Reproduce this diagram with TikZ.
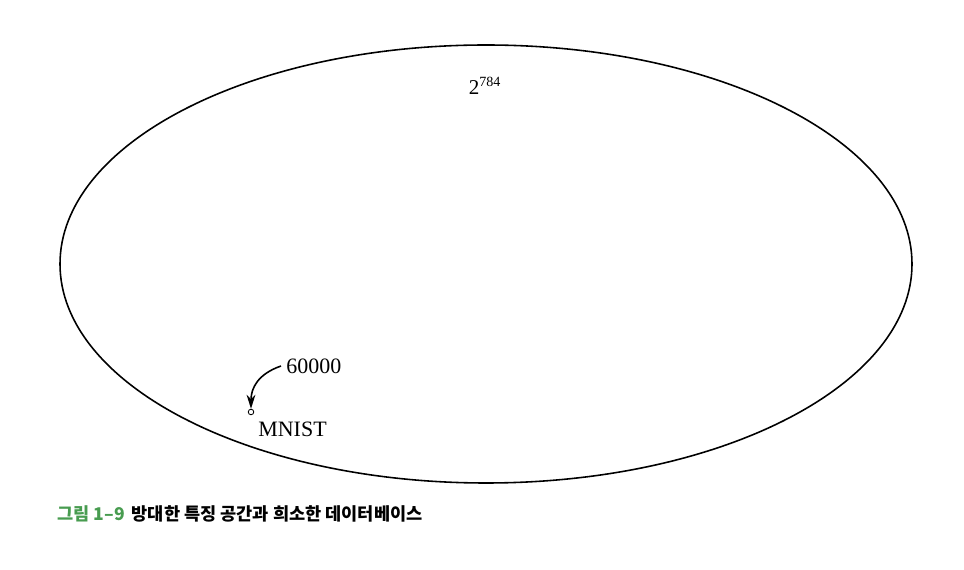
\documentclass[tikz,border=0pt]{standalone}
\usepackage{fontspec}
\setmainfont{Liberation Serif}
\newfontfamily\kr{Noto Sans CJK KR}
\definecolor{figgreen}{RGB}{72,156,80}
\usetikzlibrary{arrows.meta,shapes.geometric}
\begin{document}
\begin{tikzpicture}[x=0.02cm, y=-0.02cm, every node/.style={inner sep=0pt}]
          \useasboundingbox (0,0) rectangle (964,570);
          \node [draw, ellipse, minimum width=852*0.02cm, minimum height=438*0.02cm, line width=0.9pt] (space) at (486,264) {};
          \node [font=\fontsize{12}{14}\selectfont] (total) at (485,86) {2\textsuperscript{784}};
          \node [draw, circle, minimum size=5.5*0.02cm, line width=0.5pt] (mnist) at (251,412) {};
          \node [font=\fontsize{12.5}{14}\selectfont, anchor=west] (count) at (286,366) {60000};
          \node [font=\fontsize{12.5}{14}\selectfont, anchor=west] (name) at (258,429) {MNIST};
          \draw [-{Stealth[length=8pt,width=5pt]}, line width=0.9pt] (count.west) ++(-5,0) coordinate (start) (start) .. controls (258,374) and (251,388) .. (mnist.north);
          \node [font=\kr\bfseries\fontsize{10}{12}\selectfont, anchor=west] (caption) at (57,514) {\textcolor{figgreen}{그림 1–9}\hspace{0.4em}방대한 특징 공간과 희소한 데이터베이스};
        \end{tikzpicture}
\end{document}
